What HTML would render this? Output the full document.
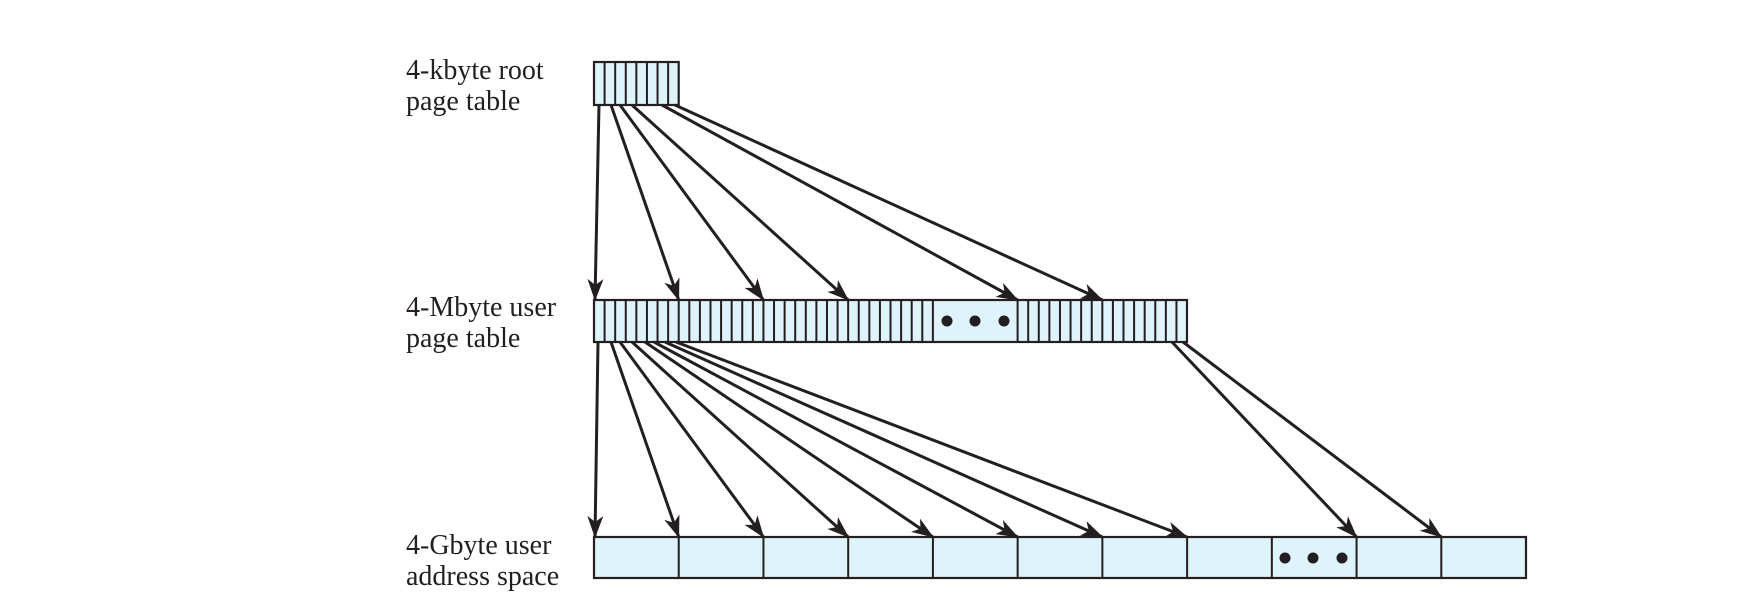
<!DOCTYPE html>
<html><head><meta charset="utf-8"><style>
html,body{margin:0;padding:0;background:#fff;}
svg{display:block;}
text{font-family:"Liberation Serif",serif;font-size:28px;fill:#231f20;}
</style></head><body>
<svg width="1752" height="610" viewBox="0 0 1752 610" xmlns="http://www.w3.org/2000/svg">
<defs>
<marker id="a" markerWidth="22" markerHeight="16" refX="21" refY="8" orient="auto" markerUnits="userSpaceOnUse">
<path d="M0,0 L22,8 L0,16 L6,8 Z" fill="#231f20"/>
</marker>
</defs>
<text x="406" y="79">4-kbyte root</text>
<text x="406" y="110">page table</text>
<text x="406" y="316">4-Mbyte user</text>
<text x="406" y="347">page table</text>
<text x="406" y="554">4-Gbyte user</text>
<text x="406" y="585">address space</text>

<g stroke="#231f20" stroke-width="2.2" fill="#dff3fa">
<rect x="594" y="62" width="84.7" height="43"/>
<rect x="594" y="300" width="593" height="42"/>
<rect x="594" y="537" width="932" height="41"/>
</g>
<g stroke="#231f20" stroke-width="2" id="lines"></g>
<g fill="#231f20">
<circle cx="947" cy="321" r="5.5"/><circle cx="975" cy="321" r="5.5"/><circle cx="1004" cy="321" r="5.5"/>
<circle cx="1285" cy="558" r="5.5"/><circle cx="1313" cy="558" r="5.5"/><circle cx="1342" cy="558" r="5.5"/>
</g>
<g stroke="#231f20" stroke-width="3" fill="none" marker-end="url(#a)" id="arr"></g>
<script>
var u=10.59,L=594,ns="http://www.w3.org/2000/svg";
var g=document.getElementById('lines');
function ln(x1,y1,x2,y2,p){var e=document.createElementNS(ns,'line');e.setAttribute('x1',x1);e.setAttribute('y1',y1);e.setAttribute('x2',x2);e.setAttribute('y2',y2);(p||g).appendChild(e);}
for(var i=1;i<8;i++)ln(L+i*u,62,L+i*u,105);
for(var i=1;i<56;i++){if(i>32&&i<40)continue;ln(L+i*u,300,L+i*u,342);}
var c=84.73;for(var i=1;i<11;i++)ln(L+i*c,537,L+i*c,578);
var a=document.getElementById('arr');
var r=[[599,611,620,632,662,675],[0,1,2,3,5,6]];
for(var i=0;i<6;i++)ln(r[0][i],105,L+r[1][i]*c+(i==0?1:0),300,a);
var s=[598,611,620,632,645,654,665,676,1172,1183];
var e=[0,1,2,3,4,5,6,7,9,10];
for(var i=0;i<10;i++)ln(s[i],342,L+e[i]*c+(i==0?1:0),537,a);
</script>
</svg>
</body></html>
